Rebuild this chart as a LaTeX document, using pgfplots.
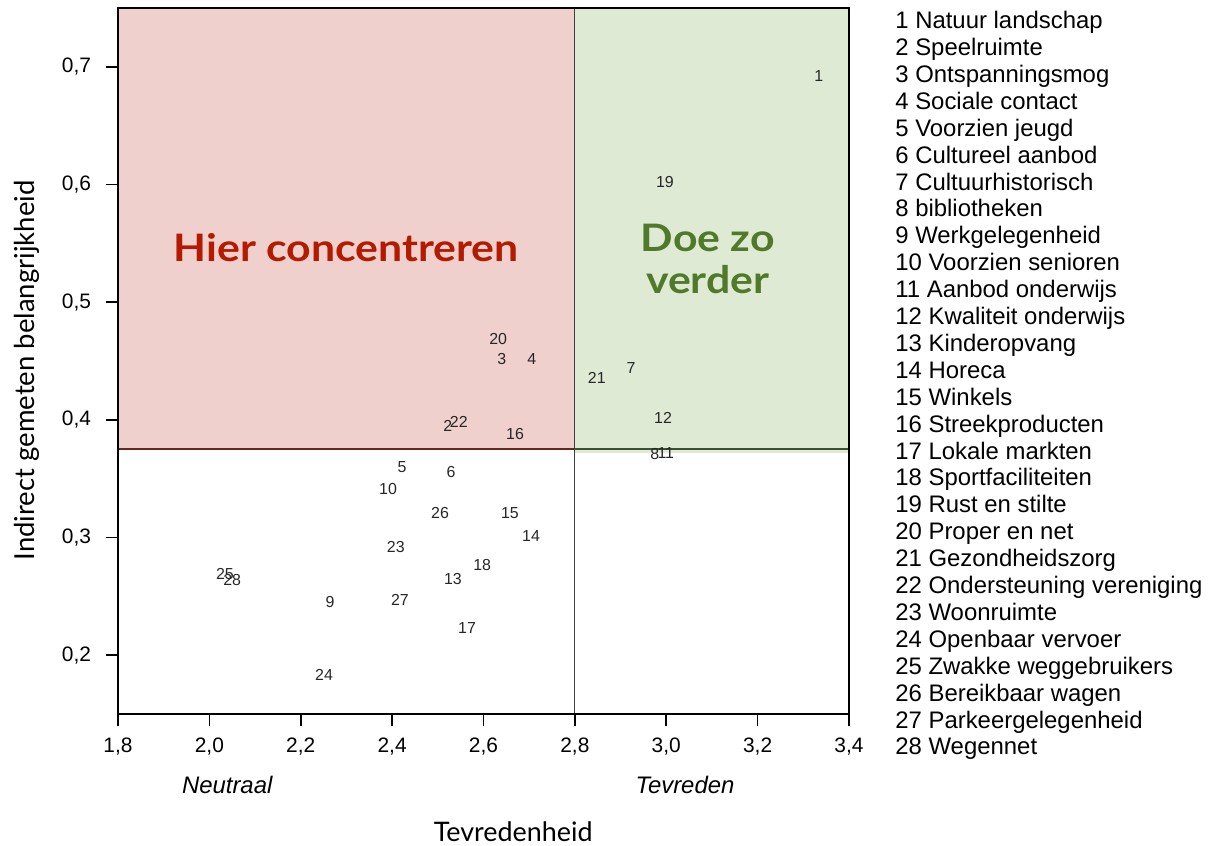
\documentclass[border=0pt]{standalone}
\usepackage{pgfplots}
\pgfplotsset{compat=1.18}
\usepackage{pgfplotstable}
\usepackage{fontspec}
\setmainfont{Liberation Sans}
\newfontfamily\lato{Lato}

\definecolor{pinkfill}{RGB}{240,208,204}
\definecolor{pinkedge}{RGB}{100,40,30}
\definecolor{greenfill}{RGB}{222,234,212}
\definecolor{greenedge}{RGB}{60,80,50}
\definecolor{redtxt}{RGB}{180,26,0}
\definecolor{greentxt}{RGB}{80,122,42}

% label  tevredenheid  belangrijkheid
\pgfplotstableread{
lab x y
1 3.334 0.692
2 2.522 0.395
3 2.640 0.452
4 2.706 0.452
5 2.422 0.360
6 2.529 0.356
7 2.923 0.444
8 2.975 0.371
9 2.264 0.245
10 2.391 0.341
11 2.999 0.372
12 2.993 0.402
13 2.533 0.265
14 2.704 0.301
15 2.658 0.321
16 2.669 0.388
17 2.564 0.223
18 2.597 0.277
19 2.997 0.602
20 2.632 0.469
21 2.848 0.436
22 2.546 0.398
23 2.408 0.292
24 2.251 0.183
25 2.034 0.269
26 2.505 0.321
27 2.417 0.247
28 2.050 0.264
}\points

\begin{document}
\begin{tikzpicture}
\begin{axis}[
    scale only axis,
    width=365.5bp, height=353bp,
    xmin=1.8, xmax=3.4,
    ymin=0.15, ymax=0.75,
    xtick={1.8,2.0,...,3.4},
    ytick={0.2,0.3,...,0.7},
    tick align=outside,
    xtick pos=bottom, ytick pos=left,
    major tick length=6bp,
    axis line style={line width=1pt},
    every tick/.style={black, line width=0.8pt},
    /pgf/number format/.cd, use comma, fixed, fixed zerofill, precision=1, assume math mode=true,
    /pgfplots/.cd,
    tick label style={font=\fontsize{10.5}{12}\selectfont},
    yticklabel style={xshift=-4bp},
    xticklabel style={yshift=-2.5bp},
    clip=false,
    axis on top,
]
\coordinate (bl) at (axis cs:1.8,0.15);

% kwadranten
\fill[pinkfill] (axis cs:1.8,0.375) rectangle (axis cs:2.8,0.75);
\fill[greenfill] (axis cs:2.8,0.372) rectangle (axis cs:3.4,0.75);
\draw[pinkedge, line width=0.8pt] (axis cs:1.8,0.375) -- (axis cs:2.8,0.375);
\draw[greenedge, line width=0.8pt] (axis cs:2.8,0.375) -- (axis cs:3.4,0.375);
\draw[black!75, line width=0.6pt] (axis cs:2.8,0.15) -- (axis cs:2.8,0.75);

\node[font=\lato\bfseries\fontsize{19}{21}\selectfont, text=redtxt, xscale=1.13] at (axis cs:2.3,0.546) {Hier concentreren};
\node[font=\lato\bfseries\fontsize{19}{21}\selectfont, text=greentxt, align=center, xscale=1.13] at (axis cs:3.091,0.537) {Doe zo\\verder};

\addplot[draw=none, mark=none,
    nodes near coords, point meta=explicit symbolic,
    every node near coord/.append style={anchor=center, font=\fontsize{8}{9}\selectfont, text=black!85}]
    table[x=x, y=y, meta=lab] {\points};

% as-titels
\node[font=\lato\fontsize{13.8}{15}\selectfont, rotate=90] at (axis cs:1.601,0.442) {Indirect gemeten belangrijkheid};
\node[font=\lato\fontsize{13.5}{15}\selectfont] at (axis cs:2.665,0.050) {Tevredenheid};
\node[font=\itshape\fontsize{12}{13}\selectfont] at (axis cs:2.039,0.0897) {Neutraal};
\node[font=\itshape\fontsize{12}{13}\selectfont] at (axis cs:3.041,0.0897) {Tevreden};

% legenda
\node[anchor=north west, inner sep=0pt, align=left, font=\fontsize{12}{13.5}\selectfont]
  at (axis cs:3.5006,0.7475) {1 Natuur landschap\\2 Speelruimte\\3 Ontspanningsmog\\4 Sociale contact\\5 Voorzien jeugd\\6 Cultureel aanbod\\7 Cultuurhistorisch\\8 bibliotheken\\9 Werkgelegenheid\\10 Voorzien senioren\\11 Aanbod onderwijs\\12 Kwaliteit onderwijs\\13 Kinderopvang\\14 Horeca\\15 Winkels\\16 Streekproducten\\17 Lokale markten\\18 Sportfaciliteiten\\19 Rust en stilte\\20 Proper en net\\21 Gezondheidszorg\\22 Ondersteuning vereniging\\23 Woonruimte\\24 Openbaar vervoer\\25 Zwakke weggebruikers\\26 Bereikbaar wagen\\27 Parkeergelegenheid\\28 Wegennet};
\end{axis}
\pgfresetboundingbox
\path[use as bounding box] ([shift={(-59bp,-66bp)}]bl) rectangle ([shift={(547bp,357bp)}]bl);
\end{tikzpicture}
\end{document}
